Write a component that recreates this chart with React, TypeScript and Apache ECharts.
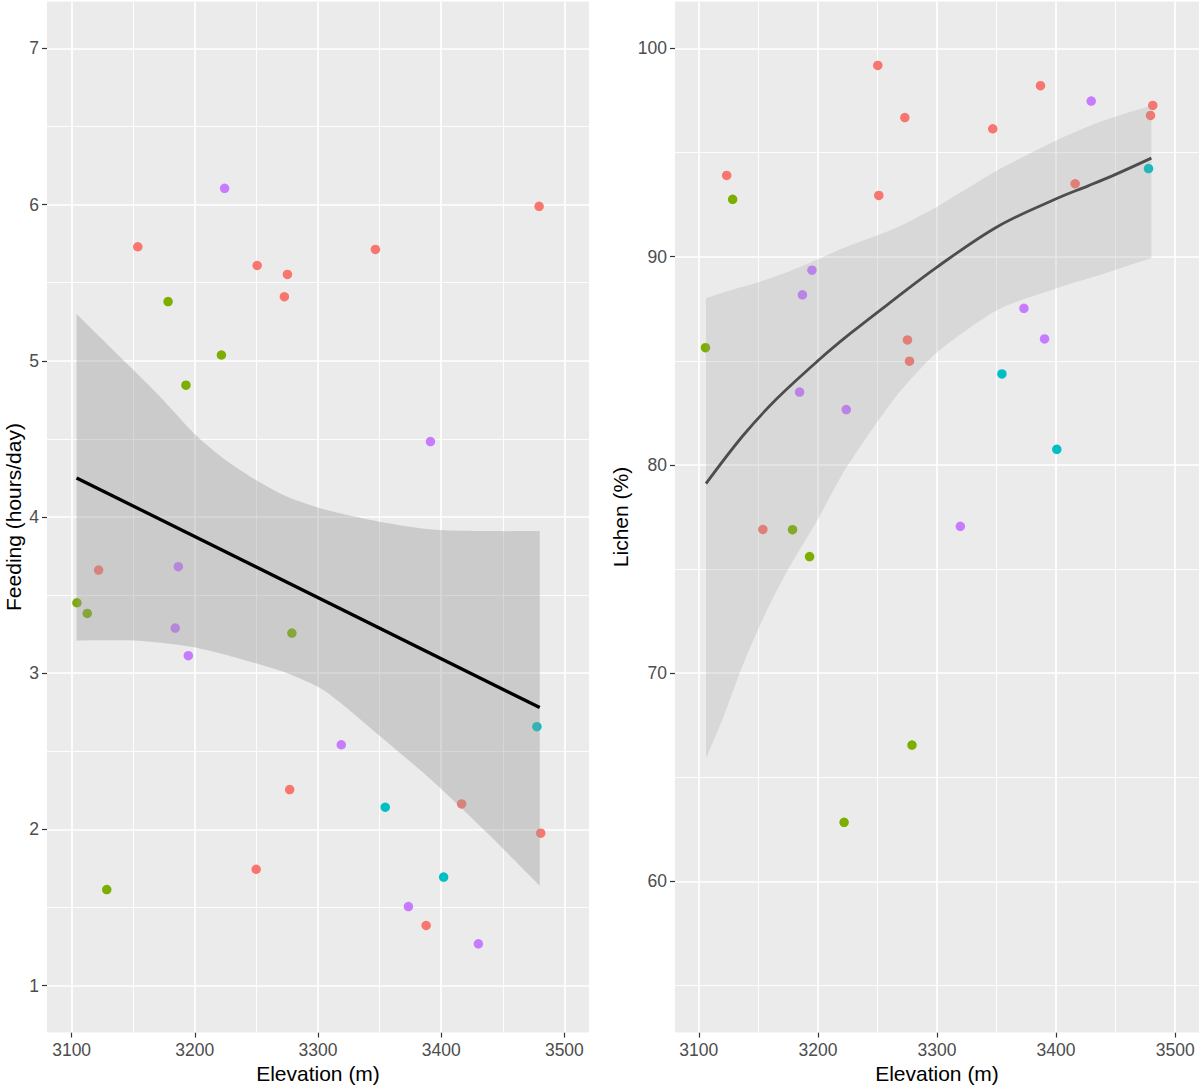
import React, { useEffect, useRef } from "react";
import * as echarts from "echarts";

const FONT = "'Liberation Sans', Arial, Helvetica, sans-serif";
const GROUP_COLORS = ["#F8766D", "#7CAE00", "#00BFC4", "#C77CFF"];

// ---------- shared axis ticks ----------
const elevTicks = [3100, 3200, 3300, 3400, 3500];
const elevMinor = [3150, 3250, 3350, 3450];
const feedTicks = [1, 2, 3, 4, 5, 6, 7];
const feedMinor = [1.5, 2.5, 3.5, 4.5, 5.5, 6.5];
const lichenTicks = [60, 70, 80, 90, 100];
const lichenMinor = [55, 65, 75, 85, 95];

// ---------- left panel: feeding (hours/day) ----------
const feedElev = [
  3121.9, 3153.7, 3249.8, 3250.6, 3272.7, 3275.2, 3277.0, 3346.6, 3387.8, 3416.6, 3479.5, 3480.8,
  3104.3, 3112.7, 3128.5, 3178.3, 3192.8, 3221.6, 3278.8,
  3354.6, 3402.0, 3477.7,
  3184.1, 3186.6, 3194.7, 3224.2, 3318.9, 3373.4, 3391.3, 3430.2,
];
const feedHours = [
  3.66, 5.73, 1.745, 5.61, 5.41, 5.553, 2.255, 5.713, 1.385, 2.163, 5.989, 1.976,
  3.451, 3.383, 1.615, 5.379, 4.844, 5.037, 3.257,
  2.142, 1.695, 2.658,
  3.289, 3.682, 3.112, 6.104, 2.542, 1.506, 4.483, 1.268,
];
const feedGroup = [
  0, 0, 0, 0, 0, 0, 0, 0, 0, 0, 0, 0,
  1, 1, 1, 1, 1, 1, 1,
  2, 2, 2,
  3, 3, 3, 3, 3, 3, 3, 3,
];
const feedFitElev = [3104, 3480];
const feedFitHours = [4.25, 2.78];
const feedBandElev = [3104, 3149, 3173, 3200, 3224, 3251, 3275, 3305, 3350, 3393, 3437, 3480];
const feedBandUpper = [5.3, 4.95, 4.76, 4.53, 4.37, 4.23, 4.13, 4.05, 3.97, 3.92, 3.91, 3.91];
const feedBandLower = [3.21, 3.21, 3.195, 3.165, 3.12, 3.06, 3.0, 2.89, 2.6, 2.31, 1.98, 1.64];

// ---------- right panel: lichen (%) ----------
const lichenElev = [
  3123.4, 3153.8, 3250.3, 3251.1, 3273.0, 3275.2, 3276.9, 3346.8, 3386.9, 3416.0, 3479.3, 3481.2,
  3105.6, 3128.4, 3178.7, 3193.0, 3222.0, 3279.0,
  3354.5, 3400.6, 3477.6,
  3184.6, 3187.0, 3195.0, 3223.8, 3319.6, 3373.0, 3390.3, 3429.5,
];
const lichenPct = [
  93.9, 76.9, 99.18, 92.94, 96.68, 86.0, 84.98, 96.14, 98.21, 93.5, 96.78, 97.26,
  85.63, 92.75, 76.89, 75.6, 62.84, 66.55,
  84.37, 80.75, 94.23,
  83.5, 88.17, 89.35, 82.66, 77.05, 87.52, 86.05, 97.47,
];
const lichenGroup = [
  0, 0, 0, 0, 0, 0, 0, 0, 0, 0, 0, 0,
  1, 1, 1, 1, 1, 1,
  2, 2, 2,
  3, 3, 3, 3, 3, 3, 3, 3,
];
const lichenFitElev = [3106, 3137, 3165, 3200, 3227, 3263, 3300, 3351, 3401, 3427, 3450, 3480];
const lichenFitPct = [79.1, 81.4, 83.15, 85.0, 86.3, 87.9, 89.5, 91.45, 92.8, 93.4, 93.95, 94.73];
const lichenBandElev = [3106, 3120, 3137, 3157, 3176, 3199, 3221, 3249, 3270, 3300, 3351, 3401, 3427, 3450, 3480];
const lichenBandUpper = [88.0, 88.27, 88.55, 88.9, 89.3, 89.85, 90.4, 91.0, 91.5, 92.4, 94.15, 95.6, 96.25, 96.73, 97.25];
const lichenBandLower = [65.9, 67.8, 70.4, 73.0, 75.1, 77.3, 79.6, 82.0, 83.6, 85.4, 87.45, 88.5, 88.95, 89.37, 89.93];

function gridLines(idx: number, xMajor: number[], xMinor: number[], yMajor: number[], yMinor: number[]) {
  const major = { color: "#FFFFFF", width: 1.7, type: "solid" as const, opacity: 1 };
  const minor = { color: "#FFFFFF", width: 0.9, type: "solid" as const, opacity: 1 };
  return {
    type: "line",
    xAxisIndex: idx,
    yAxisIndex: idx,
    data: [],
    silent: true,
    z: 1,
    markLine: {
      silent: true,
      symbol: ["none", "none"],
      label: { show: false },
      emphasis: { disabled: true },
      z: 1,
      data: [
        ...xMinor.map((v) => ({ xAxis: v, lineStyle: minor })),
        ...yMinor.map((v) => ({ yAxis: v, lineStyle: minor })),
        ...xMajor.map((v) => ({ xAxis: v, lineStyle: major })),
        ...yMajor.map((v) => ({ yAxis: v, lineStyle: major })),
      ],
    },
  };
}

function band(idx: number, xs: number[], up: number[], lo: number[], fill: string) {
  return {
    type: "custom",
    xAxisIndex: idx,
    yAxisIndex: idx,
    silent: true,
    z: 11,
    clip: true,
    data: [[xs[0], up[0]]],
    renderItem: (_params: any, api: any) => {
      const n = xs.length;
      const pts: number[][] = [];
      // corner points are doubled so the smoothing keeps the vertical ends sharp
      const first = api.coord([xs[0], up[0]]);
      pts.push(first, first);
      for (let i = 1; i < n - 1; i++) pts.push(api.coord([xs[i], up[i]]));
      const tr = api.coord([xs[n - 1], up[n - 1]]);
      const br = api.coord([xs[n - 1], lo[n - 1]]);
      pts.push(tr, tr, br, br);
      for (let i = n - 2; i >= 1; i--) pts.push(api.coord([xs[i], lo[i]]));
      const bl = api.coord([xs[0], lo[0]]);
      pts.push(bl, bl);
      return { type: "polygon", shape: { points: pts, smooth: 0.25 }, style: { fill } };
    },
  };
}

function scatters(idx: number, xs: number[], ys: number[], groups: number[]) {
  return GROUP_COLORS.map((c, g) => ({
    type: "scatter",
    xAxisIndex: idx,
    yAxisIndex: idx,
    symbol: "circle",
    symbolSize: 9.5,
    itemStyle: { color: c, opacity: 1 },
    z: 10,
    silent: true,
    data: xs.map((x, i) => [x, ys[i], groups[i]]).filter((d) => d[2] === g).map((d) => [d[0], d[1]]),
  }));
}

function fit(idx: number, xs: number[], ys: number[], color: string, width: number, smooth: boolean) {
  return {
    type: "line",
    xAxisIndex: idx,
    yAxisIndex: idx,
    showSymbol: false,
    symbol: "none",
    smooth: smooth ? 0.35 : false,
    silent: true,
    z: 12,
    lineStyle: { color, width },
    data: xs.map((x, i) => [x, ys[i]]),
  };
}

const plain = (v: number) => String(v);

function xAxis(idx: number) {
  return {
    type: "value",
    gridIndex: idx,
    min: 3080,
    max: 3520,
    name: "Elevation (m)",
    nameLocation: "middle",
    nameGap: 30,
    nameTextStyle: { fontSize: 21, color: "#000000", fontFamily: FONT },
    axisLine: { show: false },
    axisTick: { show: true, customValues: elevTicks, length: 5, lineStyle: { color: "#333333", width: 1.2 } },
    axisLabel: { customValues: elevTicks, formatter: plain, fontSize: 17.5, color: "#4D4D4D", margin: 8, fontFamily: FONT },
    splitLine: { show: false },
    minorSplitLine: { show: false },
  };
}

function yAxis(idx: number, min: number, max: number, ticks: number[], name: string, gap: number) {
  return {
    type: "value",
    gridIndex: idx,
    min,
    max,
    name,
    nameLocation: "middle",
    nameGap: gap,
    nameTextStyle: { fontSize: 21, color: "#000000", fontFamily: FONT },
    axisLine: { show: false },
    axisTick: { show: true, customValues: ticks, length: 5, lineStyle: { color: "#333333", width: 1.2 } },
    axisLabel: { customValues: ticks, formatter: plain, fontSize: 17.5, color: "#4D4D4D", margin: 8, fontFamily: FONT },
    splitLine: { show: false },
  };
}

export default function App() {
  const ref = useRef<HTMLDivElement>(null);
  useEffect(() => {
    if (!ref.current) return;
    const chart = echarts.init(ref.current, null, { renderer: "svg" });
    const option: any = {
      animation: false,
      backgroundColor: "#FFFFFF",
      textStyle: { fontFamily: FONT },
      grid: [
        { left: 47, top: 1.5, width: 542, height: 1031, show: true, backgroundColor: "#EBEBEB", borderWidth: 0, containLabel: false, outerBoundsMode: "none" },
        { left: 675, top: 1.5, width: 524, height: 1031, show: true, backgroundColor: "#EBEBEB", borderWidth: 0, containLabel: false, outerBoundsMode: "none" },
      ],
      xAxis: [xAxis(0), xAxis(1)],
      yAxis: [
        yAxis(0, 0.7, 7.3, feedTicks, "Feeding (hours/day)", 23),
        yAxis(1, 52.75, 102.25, lichenTicks, "Lichen (%)", 44),
      ],
      series: [
        gridLines(0, elevTicks, elevMinor, feedTicks, feedMinor),
        gridLines(1, elevTicks, elevMinor, lichenTicks, lichenMinor),
        ...scatters(0, feedElev, feedHours, feedGroup),
        ...scatters(1, lichenElev, lichenPct, lichenGroup),
        band(0, feedBandElev, feedBandUpper, feedBandLower, "rgba(153,153,153,0.38)"),
        band(1, lichenBandElev, lichenBandUpper, lichenBandLower, "rgba(153,153,153,0.24)"),
        fit(0, feedFitElev, feedFitHours, "#000000", 3.3, false),
        fit(1, lichenFitElev, lichenFitPct, "#4D4D4D", 2.8, true),
      ],
    };
    chart.setOption(option);
    return () => chart.dispose();
  }, []);
  return (
    <div
      ref={ref}
      style={{ position: "absolute", left: 0, top: 0, width: 1200, height: 1088, background: "#FFFFFF" }}
    />
  );
}
